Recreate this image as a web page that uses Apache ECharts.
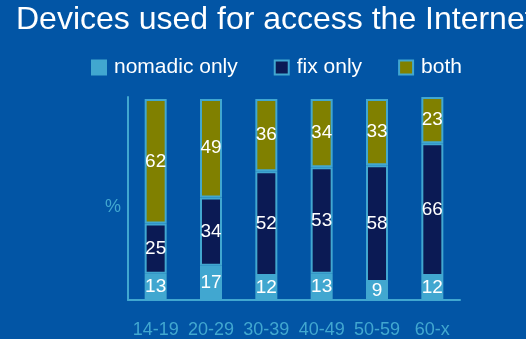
<!DOCTYPE html>
<html>
<head>
<meta charset="utf-8">
<style>
  html, body { margin: 0; padding: 0; background: #0255a5; }
  #chart { width: 526px; height: 339px; }
</style>
<script src="https://cdn.jsdelivr.net/npm/echarts@6/dist/echarts.min.js"></script>
</head>
<body>
<div id="chart"></div>
<script>
// Age groups and shares (%) of each access type
const ageGroups = ['14-19', '20-29', '30-39', '40-49', '50-59', '60-x'];
const nomadicOnly = [13, 17, 12, 13, 9, 12];
const fixOnly = [25, 34, 52, 53, 58, 66];
const both = [62, 49, 36, 34, 33, 23];

const LIGHT = '#41a7d0';
const FONT = '"Liberation Sans", Arial, sans-serif';

const chart = echarts.init(document.getElementById('chart'));

function stackSeries(name, data, color) {
  return {
    name: name,
    type: 'bar',
    stack: 'total',
    data: data,
    barWidth: 22,
    clip: false,
    itemStyle: { color: color, borderColor: LIGHT, borderWidth: 2 },
    label: {
      show: true,
      position: 'inside',
      color: '#ffffff',
      fontSize: 19,
      fontFamily: FONT
    },
    emphasis: { disabled: true }
  };
}

chart.setOption({
  backgroundColor: '#0255a5',
  animation: false,
  title: {
    text: 'Devices used for access the Internet',
    left: 16,
    top: 4,
    padding: 0,
    textStyle: { color: '#ffffff', fontSize: 32, fontWeight: 'normal', fontFamily: FONT }
  },
  legend: {
    left: 91,
    top: 57,
    padding: 0,
    icon: 'rect',
    itemWidth: 14,
    itemHeight: 14,
    itemGap: 36,
    textStyle: { color: '#ffffff', fontSize: 21, fontFamily: FONT, padding: [0, 0, 0, 3] },
    data: ['nomadic only', 'fix only', 'both']
  },
  grid: { left: 128, right: 66, top: 97, bottom: 39 },
  xAxis: {
    type: 'category',
    data: ageGroups,
    axisLine: { lineStyle: { color: LIGHT, width: 2 } },
    axisTick: { show: false },
    axisLabel: { color: LIGHT, fontSize: 18, fontFamily: FONT, margin: 21, interval: 0 }
  },
  yAxis: {
    type: 'value',
    min: 0,
    max: 101,
    name: '%',
    nameLocation: 'middle',
    nameGap: 7,
    nameRotate: 0,
    nameTextStyle: { color: LIGHT, fontSize: 18, fontFamily: FONT, verticalAlign: 'top' },
    axisLine: { show: true, lineStyle: { color: LIGHT, width: 2 } },
    axisTick: { show: false },
    axisLabel: { show: false },
    splitLine: { show: false }
  },
  series: [
    stackSeries('nomadic only', nomadicOnly, LIGHT),
    stackSeries('fix only', fixOnly, '#0b1a54'),
    stackSeries('both', both, '#808000')
  ]
});
</script>
</body>
</html>
